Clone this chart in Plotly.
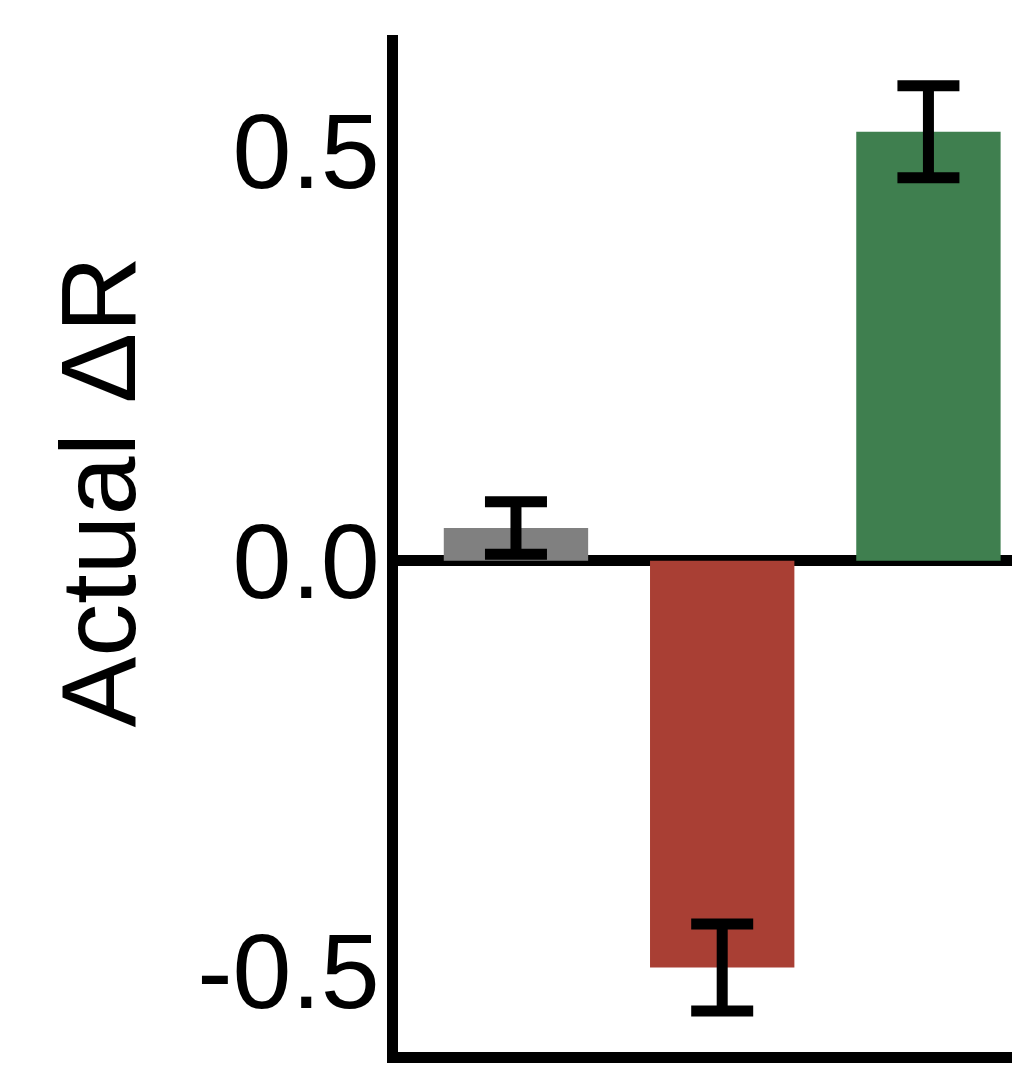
import plotly.graph_objects as go

categories = ["A", "B", "C"]
values = [0.040, -0.496, 0.523]
errors = [0.032, 0.053, 0.056]
colors = ["#808080", "#a93f34", "#3f7f4f"]
tick_vals = [-0.5, 0.0, 0.5]
tick_text = ["-0.5", "0.0", "0.5"]
y_title = "Actual ΔR"

fig = go.Figure()
fig.add_trace(go.Bar(
    x=[0, 1, 2], y=values, width=0.7,
    marker=dict(color=colors, line=dict(width=0)),
    error_y=dict(type="data", array=errors, visible=True, color="black",
                 thickness=11, width=31),
))

fig.update_layout(
    width=1012, height=1057,
    margin=dict(l=390, r=0, t=27, b=13),
    paper_bgcolor="white", plot_bgcolor="white",
    showlegend=False,
    font=dict(family="Liberation Sans, Arial, sans-serif", color="black", size=106),
    xaxis=dict(range=[-0.572, 2.444], showticklabels=False, showgrid=False,
               zeroline=False, showline=True, linecolor="black", linewidth=11,
               ticks=""),
    yaxis=dict(range=[-0.599, 0.641], tickmode="array", tickvals=tick_vals,
               ticktext=tick_text, showgrid=False, zeroline=True,
               zerolinecolor="black", zerolinewidth=11, showline=True,
               linecolor="black", linewidth=11, ticks="outside", ticklen=0,
               tickfont=dict(size=106), ticklabelstandoff=-14),
    annotations=[dict(text=y_title, textangle=-90, xref="paper", yref="paper",
                      x=-0.4815, y=0.5506, xanchor="center", yanchor="middle",
                      showarrow=False, font=dict(size=106))],
)

fig.write_html("out.html")
